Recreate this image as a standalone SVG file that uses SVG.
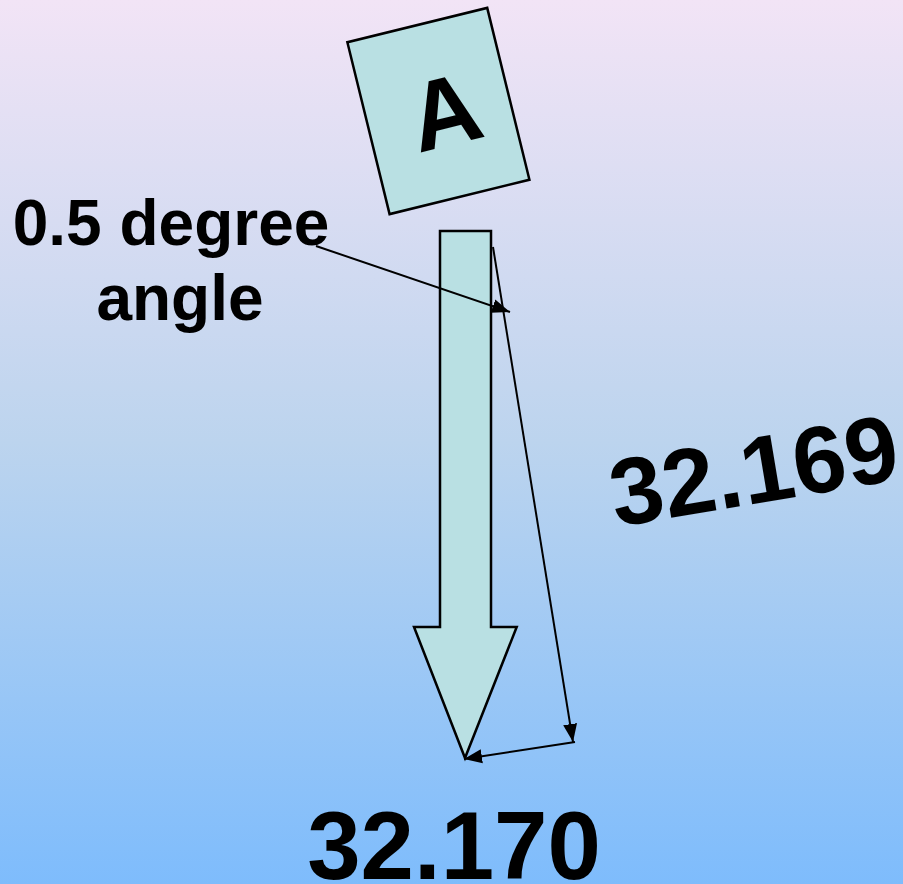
<svg xmlns="http://www.w3.org/2000/svg" width="903" height="884" viewBox="0 0 903 884">
<defs>
<linearGradient id="bg" x1="0" y1="0" x2="0" y2="1">
<stop offset="0" stop-color="#f2e4f6"/>
<stop offset="0.5" stop-color="#bcd4ee"/>
<stop offset="1" stop-color="#7ebcfc"/>
</linearGradient>
<marker id="ah" markerUnits="userSpaceOnUse" markerWidth="19" markerHeight="16" refX="18" refY="8" orient="auto">
<path d="M0,1 L18,8 L0,15 Z" fill="#000"/>
</marker>
<style>
.shape{fill:#b9e0e3;stroke:#000;stroke-width:2.5}
.big{font-family:"Liberation Sans",Arial,sans-serif;font-weight:bold;fill:#000}
.conn{stroke:#000;stroke-width:2;fill:none}
</style>
</defs>
<rect width="903" height="884" fill="url(#bg)"/>
<g id="box-a" transform="translate(438.4,111) rotate(-13.8)">
<rect class="shape" x="-72" y="-88.5" width="144" height="177"/>
<text class="big" x="6" y="36" font-size="98" text-anchor="middle">A</text>
</g>
<g id="down-arrow">
<polygon class="shape" points="440,231 491,231 491,627 516.7,627 465,758 414,627 440,627"/>
</g>
<g id="connectors">
<line class="conn" x1="316" y1="246" x2="510" y2="312" marker-end="url(#ah)"/>
<line class="conn" x1="493" y1="247" x2="573" y2="742" marker-end="url(#ah)"/>
<line class="conn" x1="575" y1="742" x2="464" y2="759" marker-end="url(#ah)"/>
</g>
<g id="label-angle">
<text class="big" font-size="64" text-anchor="middle"><tspan x="171" y="245">0.5 degree</tspan><tspan x="180" y="320">angle</tspan></text>
</g>
<g id="label-32169" transform="translate(616,527) rotate(-9.5)">
<text class="big" x="0" y="0" font-size="95">32.169</text>
</g>
<g id="label-32170">
<text class="big" x="454" y="879" font-size="96" text-anchor="middle">32.170</text>
</g>
</svg>
